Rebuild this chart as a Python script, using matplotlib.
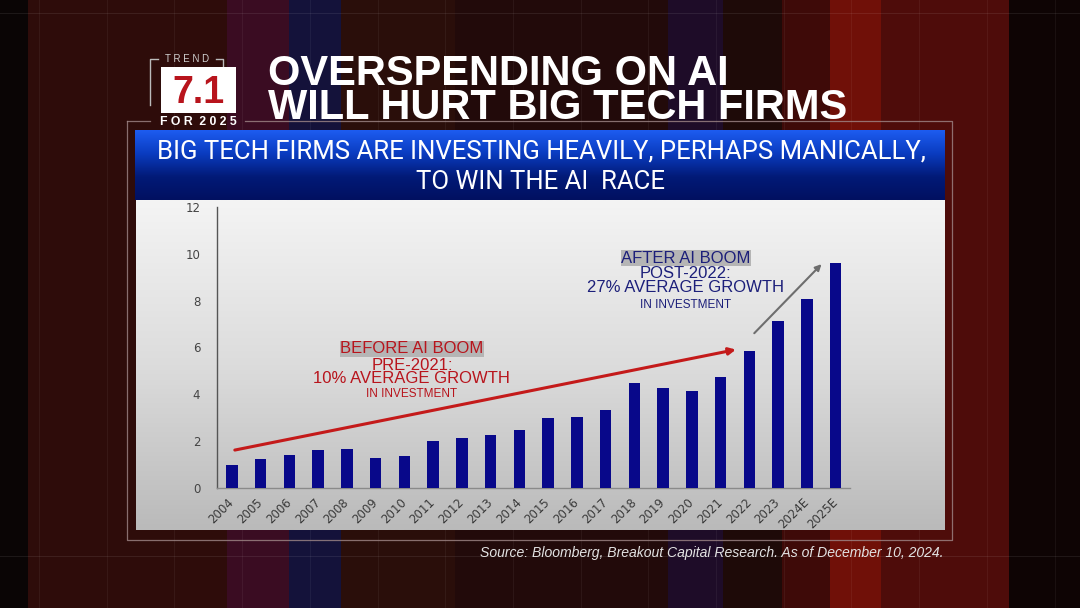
import numpy as np
import matplotlib.pyplot as plt
from matplotlib.patches import Rectangle
from matplotlib.colors import LinearSegmentedColormap

# values
years = ['2004', '2005', '2006', '2007', '2008', '2009', '2010', '2011', '2012', '2013', '2014',
         '2015', '2016', '2017', '2018', '2019', '2020', '2021', '2022', '2023', '2024E', '2025E']
investment = [0.98, 1.24, 1.41, 1.61, 1.65, 1.29, 1.38, 2.00, 2.15, 2.28, 2.47,
              3.00, 3.03, 3.35, 4.50, 4.26, 4.13, 4.73, 5.87, 7.12, 8.09, 9.60]
y_ticks = [0, 2, 4, 6, 8, 10, 12]

# trend arrows (bar index, value)
pre_trend = [(0.10, 1.62), (17.53, 5.91)]
post_trend = [(18.17, 6.61), (20.51, 9.56)]

pre_lines = ['BEFORE AI BOOM', 'PRE-2021:', '10% AVERAGE GROWTH', 'IN INVESTMENT']
post_lines = ['AFTER AI BOOM', 'POST-2022:', '27% AVERAGE GROWTH', 'IN INVESTMENT']

title_lines = ['OVERSPENDING ON AI', 'WILL HURT BIG TECH FIRMS']
banner_lines = ['BIG TECH FIRMS ARE INVESTING HEAVILY, PERHAPS MANICALLY,', 'TO WIN THE AI  RACE']
source = 'Source: Bloomberg, Breakout Capital Research. As of December 10, 2024.'

SANS = ['Liberation Sans', 'DejaVu Sans']
BAR = '#08088a'
RED = '#b8141c'
NAVY = '#1c1f7a'

fig = plt.figure(figsize=(10.8, 6.08), dpi=100)

# background layer in pixel coordinates (y down)
bg = fig.add_axes([0, 0, 1, 1])
bg.set_xlim(0, 1080)
bg.set_ylim(608, 0)
bg.axis('off')

stripes = [(0, 28, '#0a0505'), (28, 227, '#2e0c0a'), (227, 289, '#3a0c22'), (289, 341, '#14123a'),
           (341, 455, '#2a0e0a'), (455, 668, '#220a0a'), (668, 723, '#1e0c28'), (723, 782, '#1e0a08'),
           (782, 830, '#3e0a08'), (830, 881, '#701008'), (881, 1009, '#4e0c0a'), (1009, 1080, '#0e0404')]
for x0, x1, c in stripes:
    bg.add_patch(Rectangle((x0, 0), x1 - x0, 608, color=c, lw=0, zorder=0))
for gx in np.arange(39, 1080, 67.7):
    bg.plot([gx, gx], [0, 608], color='white', alpha=0.05, lw=0.8, zorder=1)
for gy in [13, 556]:
    bg.plot([0, 1080], [gy, gy], color='white', alpha=0.08, lw=0.8, zorder=1)

# outer frame around the panel
fc = '#a08888'
bg.plot([127, 127, 952, 952, 245], [121, 540, 540, 121, 121], color=fc, lw=0.9, alpha=0.8, zorder=2)
bg.plot([127, 150], [121, 121], color=fc, lw=0.9, alpha=0.8, zorder=2)

# chart panel gradient
panel = LinearSegmentedColormap.from_list('panel', ['#f4f4f4', '#dcdcdc', '#bababa'])
bg.imshow(np.linspace(0, 1, 200).reshape(-1, 1), cmap=panel, aspect='auto',
          extent=(136, 945, 530, 200), zorder=3)

# blue banner
banner = LinearSegmentedColormap.from_list('banner', ['#1d5cf0', '#0a3cc0', '#021a78', '#011060'])
bg.imshow(np.linspace(0, 1, 100).reshape(-1, 1), cmap=banner, aspect='auto',
          extent=(135, 945, 200, 130), zorder=3)
bg.text(541, 167, '\n'.join(banner_lines), color='white', fontsize=18.5,
        family=['Roboto', 'DejaVu Sans'], ha='center', va='center', multialignment='center',
        linespacing=1.32, zorder=4)

# trend badge
bc = '#bbbbbb'
bg.plot([158, 150, 150], [59, 59, 105], color=bc, lw=1, zorder=4)
bg.plot([216, 223, 223], [59, 59, 67], color=bc, lw=1, zorder=4)
bg.text(187, 59, 'T R E N D', color='#d0d0d0', fontsize=7, family=SANS,
        ha='center', va='center', zorder=4)
bg.add_patch(Rectangle((161, 67), 75, 46, color='white', lw=0, zorder=4))
bg.text(198, 103, '7.1', color=RED, fontsize=27, weight='bold', family=SANS,
        ha='center', va='baseline', zorder=5)
bg.text(198, 122, 'F O R  2 0 2 5', color='white', fontsize=8.8, weight='bold',
        family=SANS, ha='center', va='center', zorder=4)

# headline
bg.text(268, 91, '\n'.join(title_lines), color='white', fontsize=30, weight='bold', family=SANS,
        ha='left', va='center', linespacing=0.82, zorder=4)

bg.text(943, 553, source, color='#e2e2e2', fontsize=10.1, style='italic',
        family=SANS, ha='right', va='center', zorder=4)

# bar chart
ax = fig.add_axes([217 / 1080, (608 - 488) / 608, (850 - 217) / 1080, (488 - 207) / 608])
ax.patch.set_alpha(0)
x = np.arange(len(years))
ax.bar(x, investment, width=0.4, color=BAR, zorder=3)
ax.set_xlim(-0.52, 21.5)
ax.set_ylim(0, 12)
ax.set_yticks(y_ticks)
ax.set_yticklabels([str(v) for v in y_ticks], color='#444444', fontsize=8.5)
ax.set_xticks(x)
ax.set_xticklabels(years, rotation=45, ha='right', va='center', rotation_mode='anchor',
                   color='#3a3a3a', fontsize=8.5)
ax.tick_params(axis='y', length=0, pad=12)
ax.tick_params(axis='x', length=0, pad=9)
for side in ['top', 'right']:
    ax.spines[side].set_visible(False)
ax.spines['left'].set_color('#555555')
ax.spines['bottom'].set_color('#8a8a8a')
ax.spines['left'].set_linewidth(1)
ax.spines['bottom'].set_linewidth(1)

ax.annotate('', xy=pre_trend[1], xytext=pre_trend[0],
            arrowprops=dict(arrowstyle='-|>', color='#c41a1a', lw=2.2, mutation_scale=10,
                            shrinkA=0, shrinkB=0), zorder=4)
ax.annotate('', xy=post_trend[1], xytext=post_trend[0],
            arrowprops=dict(arrowstyle='-|>', color='#6e6e6e', lw=1.5, mutation_scale=9,
                            shrinkA=0, shrinkB=0), zorder=4)


def growth_label(xc, y_head, y_mid, y_foot, lines, color):
    ax.text(xc, y_head, lines[0], color=color, fontsize=12, family=SANS, ha='center', va='center',
            zorder=5, bbox=dict(facecolor='#b5b5b5', edgecolor='none', pad=0.4))
    ax.text(xc, y_mid, lines[1] + '\n' + lines[2], color=color, fontsize=12, family=SANS,
            ha='center', va='center', multialignment='center', linespacing=0.85, zorder=5)
    ax.text(xc, y_foot, lines[3], color=color, fontsize=8.5, family=SANS, ha='center',
            va='center', zorder=5)


growth_label(6.26, 5.95, 4.97, 4.02, pre_lines, RED)
growth_label(15.79, 9.82, 8.86, 7.80, post_lines, NAVY)

fig.savefig('out.png', dpi=100)
